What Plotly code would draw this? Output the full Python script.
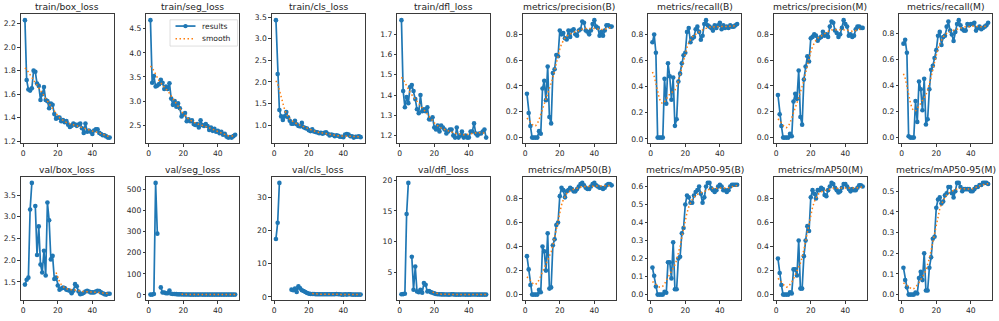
import numpy as np
import plotly.graph_objects as go

epochs = list(range(1, 51))
nan = float("nan")

train_box_loss = [2.23, 1.72, 1.64, 1.63, 1.65, 1.80, 1.79, 1.69, 1.67, 1.55,
                  1.60, 1.66, 1.55, 1.54, 1.48, 1.52, 1.51, 1.43, 1.39, 1.40,
                  1.40, 1.37, 1.38, 1.36, 1.37, 1.34, 1.32, 1.33, 1.35, 1.34,
                  1.33, 1.34, 1.35, 1.31, 1.27, 1.35, 1.28, 1.29, 1.28, 1.26,
                  1.29, 1.30, 1.30, 1.27, 1.26, 1.25, 1.25, 1.24, 1.23, 1.23]
train_seg_loss = [4.68, 3.38, 3.52, 3.30, 3.32, 3.35, 3.44, 3.38, 3.25, 3.30,
                  3.25, 3.37, 3.05, 2.92, 3.00, 2.88, 2.95, 2.85, 2.68, 2.72,
                  2.75, 2.58, 2.62, 2.58, 2.60, 2.52, 2.50, 2.52, 2.45, 2.60,
                  2.50, 2.48, 2.52, 2.48, 2.40, 2.45, 2.38, 2.42, 2.36, 2.38,
                  2.33, 2.36, 2.30, 2.32, 2.26, 2.24, 2.25, 2.24, 2.27, 2.30]
train_cls_loss = [3.43, 2.18, 1.35, 1.20, 1.12, 1.20, 1.30, 1.18, 1.10, 1.03,
                  1.03, 1.10, 1.02, 0.98, 0.97, 1.05, 0.95, 0.93, 0.92, 0.88,
                  0.86, 0.90, 0.85, 0.84, 0.83, 0.81, 0.82, 0.80, 0.82, 0.83,
                  0.80, 0.76, 0.78, 0.77, 0.74, 0.76, 0.75, 0.73, 0.73, 0.72,
                  0.78, 0.79, 0.78, 0.74, 0.74, 0.71, 0.73, 0.73, 0.74, 0.72]
train_dfl_loss = [1.77, 1.42, 1.34, 1.39, 1.36, 1.44, 1.45, 1.42, 1.38, 1.33,
                  1.31, 1.40, 1.32, 1.33, 1.32, 1.34, 1.28, 1.28, 1.29, 1.24,
                  1.23, 1.25, 1.22, 1.25, 1.24, 1.23, 1.21, 1.22, 1.23, 1.23,
                  1.20, 1.19, 1.24, 1.19, 1.20, 1.22, 1.19, 1.20, 1.19, 1.19,
                  1.22, 1.22, 1.26, 1.21, 1.20, 1.21, 1.21, 1.22, 1.23, 1.19]
precision_b = [0.34, 0.19, 0.09, 0.00, 0.00, 0.00, 0.00, 0.05, 0.03, 0.38,
               0.44, 0.29, 0.55, 0.16, 0.11, 0.50, 0.53, 0.64, 0.63, 0.83,
               0.80, 0.81, 0.77, 0.76, 0.83, 0.78, 0.83, 0.84, 0.80, 0.79,
               0.83, 0.84, 0.90, 0.89, 0.83, 0.82, 0.80, 0.83, 0.88, 0.91,
               0.86, 0.85, 0.79, 0.82, 0.79, 0.83, 0.87, 0.87, 0.86, 0.86]
recall_b = [0.74, 0.80, 0.66, 0.01, 0.01, 0.01, 0.01, 0.46, 0.27, 0.58,
            0.48, 0.30, 0.47, 0.10, 0.15, 0.44, 0.50, 0.58, 0.64, 0.66,
            0.82, 0.85, 0.74, 0.77, 0.78, 0.84, 0.86, 0.82, 0.76, 0.79,
            0.88, 0.91, 0.87, 0.86, 0.85, 0.83, 0.87, 0.85, 0.87, 0.89,
            0.84, 0.87, 0.85, 0.86, 0.85, 0.87, 0.86, 0.86, 0.87, 0.88]
precision_m = [0.33, 0.18, 0.09, 0.00, 0.00, 0.00, 0.00, 0.03, 0.01, 0.28,
               0.34, 0.30, 0.52, 0.16, 0.10, 0.45, 0.55, 0.63, 0.59, 0.77,
               0.78, 0.80, 0.79, 0.75, 0.77, 0.78, 0.82, 0.79, 0.80, 0.78,
               0.86, 0.90, 0.89, 0.83, 0.81, 0.78, 0.80, 0.85, 0.91, 0.88,
               0.86, 0.79, 0.80, 0.78, 0.79, 0.84, 0.86, 0.86, 0.85, 0.85]
recall_m = [0.72, 0.75, 0.65, 0.01, 0.00, 0.00, 0.00, 0.28, 0.12, 0.43,
            0.37, 0.21, 0.45, 0.10, 0.14, 0.37, 0.52, 0.55, 0.61, 0.67,
            0.78, 0.81, 0.71, 0.77, 0.78, 0.85, 0.89, 0.82, 0.79, 0.74,
            0.81, 0.87, 0.90, 0.86, 0.83, 0.82, 0.82, 0.87, 0.86, 0.87,
            0.87, 0.88, 0.82, 0.84, 0.85, 0.83, 0.84, 0.85, 0.86, 0.88]
val_box_loss = [1.44, 1.55, 1.60, 3.17, 3.78, nan, 3.25, 2.12, 2.78, 1.90,
                1.72, 2.22, 1.65, 3.33, 2.92, 2.02, 2.10, 1.57, 1.60, 1.42,
                1.32, 1.35, 1.37, 1.36, 1.32, 1.31, 1.30, 1.24, 1.30, 1.45,
                1.40, 1.28, 1.22, 1.23, 1.25, 1.28, 1.30, 1.28, 1.26, 1.26,
                1.26, 1.28, 1.30, 1.29, 1.26, 1.24, 1.22, 1.21, 1.23, 1.23]
val_seg_loss = [2.0, 2.0, 5.0, 530.0, 290.0, nan, 36.0, 12.0, 12.0, 8.0,
                8.0, 21.0, 6.0, 5.0, 5.0, 4.0, 3.0, 3.0, 3.0, 2.5,
                2.2, 2.1, 2.1, 2.0, 2.0, 2.0, 2.0, 1.9, 2.0, 2.1,
                2.0, 1.9, 1.9, 1.9, 1.9, 2.0, 1.9, 1.9, 1.9, 1.9,
                1.9, 1.9, 1.9, 1.9, 1.9, 1.9, 1.9, 1.9, 1.9, 1.9]
val_cls_loss = [17.5, 22.4, 34.4, nan, nan, nan, nan, nan, nan, 2.2,
                2.0, 2.5, 1.5, 3.2, 2.6, 2.0, 1.8, 1.5, 1.2, 1.0,
                0.9, 0.9, 0.9, 0.8, 0.8, 0.8, 0.8, 0.8, 0.8, 0.8,
                0.8, 0.8, 0.8, 0.8, 0.8, 0.9, 0.8, 0.8, 0.7, 0.7,
                0.8, 0.7, 0.8, 0.8, 0.7, 0.7, 0.7, 0.7, 0.7, 0.7]
val_dfl_loss = [1.35, 1.38, 1.45, 14.5, 19.6, nan, 7.5, 2.1, 5.9, 1.8,
                1.7, 2.1, 1.6, 3.2, 2.9, 1.8, 1.9, 1.7, 1.6, 1.5,
                1.4, 1.35, 1.35, 1.33, 1.33, 1.32, 1.32, 1.30, 1.30, 1.36,
                1.34, 1.30, 1.30, 1.30, 1.30, 1.32, 1.31, 1.30, 1.30, 1.30,
                1.30, 1.31, 1.32, 1.31, 1.30, 1.30, 1.30, 1.30, 1.30, 1.30]
map50_b = [0.32, 0.21, 0.08, 0.00, 0.00, 0.00, 0.00, 0.04, 0.02, 0.40,
           0.36, 0.20, 0.51, 0.05, 0.06, 0.41, 0.46, 0.58, 0.60, 0.82,
           0.89, 0.87, 0.81, 0.86, 0.87, 0.89, 0.88, 0.86, 0.86, 0.88,
           0.90, 0.92, 0.93, 0.91, 0.89, 0.88, 0.88, 0.90, 0.92, 0.93,
           0.91, 0.90, 0.89, 0.89, 0.88, 0.89, 0.91, 0.92, 0.92, 0.91]
map50_95_b = [0.15, 0.105, 0.045, 0.00, 0.00, 0.00, 0.00, 0.015, 0.01, 0.18,
              0.18, 0.09, 0.29, 0.03, 0.03, 0.20, 0.21, 0.34, 0.37, 0.50,
              0.55, 0.54, 0.51, 0.51, 0.55, 0.57, 0.58, 0.60, 0.56, 0.51,
              0.54, 0.60, 0.62, 0.62, 0.59, 0.58, 0.57, 0.58, 0.60, 0.61,
              0.60, 0.58, 0.58, 0.57, 0.58, 0.60, 0.61, 0.61, 0.61, 0.61]
map50_m = [0.30, 0.18, 0.08, 0.00, 0.00, 0.00, 0.00, 0.02, 0.01, 0.21,
           0.21, 0.16, 0.45, 0.05, 0.05, 0.32, 0.45, 0.57, 0.53, 0.81,
           0.87, 0.84, 0.80, 0.87, 0.87, 0.89, 0.88, 0.83, 0.82, 0.87,
           0.90, 0.93, 0.92, 0.89, 0.87, 0.85, 0.86, 0.89, 0.92, 0.92,
           0.90, 0.88, 0.86, 0.88, 0.87, 0.87, 0.89, 0.91, 0.91, 0.90]
map50_95_m = [0.13, 0.07, 0.035, 0.00, 0.00, 0.00, 0.00, 0.01, 0.005, 0.08,
              0.11, 0.07, 0.20, 0.02, 0.02, 0.13, 0.18, 0.27, 0.28, 0.42,
              0.46, 0.47, 0.44, 0.45, 0.48, 0.49, 0.52, 0.52, 0.49, 0.47,
              0.50, 0.54, 0.54, 0.52, 0.50, 0.51, 0.51, 0.51, 0.51, 0.50,
              0.50, 0.51, 0.52, 0.52, 0.53, 0.53, 0.54, 0.54, 0.54, 0.535]

titles = ["train/box_loss", "train/seg_loss", "train/cls_loss", "train/dfl_loss",
          "metrics/precision(B)", "metrics/recall(B)", "metrics/precision(M)", "metrics/recall(M)",
          "val/box_loss", "val/seg_loss", "val/cls_loss", "val/dfl_loss",
          "metrics/mAP50(B)", "metrics/mAP50-95(B)", "metrics/mAP50(M)", "metrics/mAP50-95(M)"]
series = [train_box_loss, train_seg_loss, train_cls_loss, train_dfl_loss,
          precision_b, recall_b, precision_m, recall_m,
          val_box_loss, val_seg_loss, val_cls_loss, val_dfl_loss,
          map50_b, map50_95_b, map50_m, map50_95_m]
y_dticks = [0.2, 0.5, 0.5, 0.1, 0.2, 0.2, 0.2, 0.2,
            0.5, 100, 10, 5, 0.2, 0.1, 0.2, 0.1]
y_formats = [".1f", ".1f", ".1f", ".1f", ".1f", ".1f", ".1f", ".1f",
             ".1f", "d", "d", "d", ".1f", ".1f", ".1f", ".1f"]
legend_labels = ["results", "smooth"]


def gaussian_smooth(y, sigma=3.0):
    # same as scipy.ndimage.gaussian_filter1d (mode='reflect', truncate=4)
    y = np.asarray(y, dtype=float)
    r = int(4.0 * sigma + 0.5)
    k = np.exp(-0.5 * (np.arange(-r, r + 1) / sigma) ** 2)
    k /= k.sum()
    yp = np.pad(y, r, mode="symmetric")
    return np.convolve(yp, k, mode="valid")


W, H = 999, 321
col_left = [20.7 + 125.5 * i for i in range(8)]
ax_w = 93.2
row_top = [13.4, 178.0]
row_bot = [143.8, 302.0]

FONT = "DejaVu Sans"
BLUE = "#1f77b4"
ORANGE = "#ff7f0e"
TXT = "#262626"
DASH = "1.5px,2.5px"

fig = go.Figure()
layout = {}
annotations = []
shapes = []
for i, (title, ys) in enumerate(zip(titles, series)):
    r, c = divmod(i, 8)
    n = i + 1
    xa = "x" if n == 1 else f"x{n}"
    ya = "y" if n == 1 else f"y{n}"
    yarr = np.array(ys, dtype=float)
    sm = gaussian_smooth(yarr)
    res_list = [None if np.isnan(v) else float(v) for v in yarr]
    sm_list = [None if np.isnan(v) else float(v) for v in sm]
    fig.add_trace(go.Scatter(x=epochs, y=res_list, mode="lines+markers", name=legend_labels[0],
                             line=dict(color=BLUE, width=1.7),
                             marker=dict(color=BLUE, size=4.6),
                             xaxis=xa, yaxis=ya, showlegend=False))
    fig.add_trace(go.Scatter(x=epochs, y=sm_list, mode="lines", name=legend_labels[1],
                             line=dict(color=ORANGE, width=1.5, dash=DASH),
                             xaxis=xa, yaxis=ya, showlegend=False))
    allv = np.concatenate([yarr[~np.isnan(yarr)], sm[~np.isnan(sm)]])
    lo, hi = allv.min(), allv.max()
    pad = 0.05 * (hi - lo)
    x0 = col_left[c] / W
    x1 = (col_left[c] + ax_w) / W
    y1 = 1 - row_top[r] / H
    y0 = 1 - row_bot[r] / H
    axis_common = dict(showline=True, mirror=True, linecolor="#3a3a3a", linewidth=0.9,
                       ticks="outside", ticklen=2.5, tickwidth=0.8, tickcolor="#3a3a3a",
                       showgrid=False, zeroline=False,
                       tickfont=dict(family=FONT, size=7.6, color=TXT))
    layout["xaxis" if n == 1 else f"xaxis{n}"] = dict(
        domain=[x0, x1], anchor=ya, range=[1 - 2.45, 50 + 2.45],
        tick0=0, dtick=20, tickformat="d", **axis_common)
    layout["yaxis" if n == 1 else f"yaxis{n}"] = dict(
        domain=[y0, y1], anchor=xa, range=[lo - pad, hi + pad],
        tick0=0, dtick=y_dticks[i], tickformat=y_formats[i], **axis_common)
    annotations.append(dict(text=title, xref="paper", yref="paper",
                            x=(x0 + x1) / 2, y=y1, xanchor="center", yanchor="bottom",
                            yshift=0.5, showarrow=False,
                            font=dict(family=FONT, size=9.2, color=TXT)))


def px(x):
    return x / W


def py(y):
    return 1 - y / H


# legend drawn in the train/seg_loss panel (matplotlib-style box)
shapes.append(dict(type="rect", xref="paper", yref="paper",
                   x0=px(170), x1=px(237.5), y0=py(45.5), y1=py(19),
                   line=dict(color="#d5d5d5", width=0.8), fillcolor="rgba(255,255,255,0.8)",
                   layer="above"))
shapes.append(dict(type="line", xref="paper", yref="paper",
                   x0=px(175.5), x1=px(195.5), y0=py(25.3), y1=py(25.3),
                   line=dict(color=BLUE, width=1.7), layer="above"))
shapes.append(dict(type="circle", xref="paper", yref="paper",
                   x0=px(183.3), x1=px(187.7), y0=py(27.5), y1=py(23.1),
                   line=dict(color=BLUE, width=0), fillcolor=BLUE, layer="above"))
shapes.append(dict(type="line", xref="paper", yref="paper",
                   x0=px(175.5), x1=px(195.5), y0=py(38), y1=py(38),
                   line=dict(color=ORANGE, width=1.5, dash=DASH), layer="above"))
for lbl, yy in zip(legend_labels, [25.3, 38.0]):
    annotations.append(dict(text=lbl, xref="paper", yref="paper", x=px(200), y=py(yy),
                            xanchor="left", yanchor="middle", showarrow=False,
                            font=dict(family=FONT, size=7.6, color=TXT)))

fig.update_layout(**layout)
fig.update_layout(
    width=W, height=H, margin=dict(l=0, r=0, t=0, b=0),
    paper_bgcolor="white", plot_bgcolor="white",
    annotations=annotations, shapes=shapes, showlegend=False,
)
fig.write_html("out.html", config={"displayModeBar": False},
               post_script="document.body.style.margin='0';")
